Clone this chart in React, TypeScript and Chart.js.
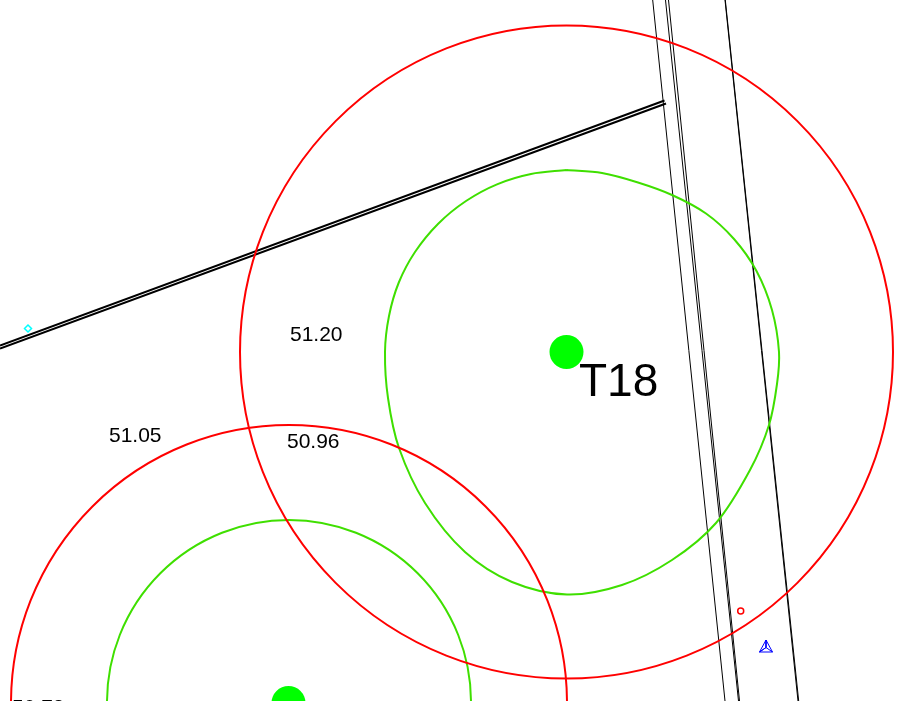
import React, { useEffect, useRef } from "react";
import { Chart, registerables } from "chart.js";

Chart.register(...registerables);

type P = { x: number; y: number };

const redRings = [
  { x: 566.5, y: 352, r: 326.5 },
  { x: 289, y: 703, r: 278 },
];
const greenRings = [{ x: 289, y: 702, r: 182 }];
const greenDots = [
  { x: 566.5, y: 352, r: 17 },
  { x: 288.5, y: 703, r: 17 },
];
const redMarkers = [{ x: 740.7, y: 611, r: 3 }];
const cyanMarkers = [{ x: 28, y: 328.5, r: 3.5 }];

const contourT18: P[] = [
  { x: 566.5, y: 170 }, { x: 602, y: 173 }, { x: 638, y: 182.5 }, { x: 672, y: 195 }, { x: 706, y: 213.5 },
  { x: 734, y: 239 }, { x: 756.5, y: 271 }, { x: 772, y: 310 }, { x: 779, y: 352 }, { x: 777, y: 384 },
  { x: 769, y: 425 }, { x: 750, y: 470 }, { x: 716, y: 523 }, { x: 672, y: 560 }, { x: 622, y: 585 },
  { x: 567, y: 594.5 }, { x: 512, y: 582 }, { x: 465, y: 552 }, { x: 425, y: 503 }, { x: 399, y: 448 },
  { x: 388, y: 398 }, { x: 385, y: 352 }, { x: 389, y: 316 }, { x: 398.8, y: 282.5 }, { x: 415, y: 252 },
  { x: 438.2, y: 223.7 }, { x: 466, y: 201 }, { x: 497, y: 184.3 }, { x: 531, y: 174 }, { x: 566.5, y: 170 },
];

const roadUpper: P[] = [{ x: 0, y: 345.5 }, { x: 664.5, y: 100.5 }];
const roadLower: P[] = [{ x: 0, y: 348.5 }, { x: 666, y: 103.5 }];
const edgeA: P[] = [{ x: 652.7, y: 0 }, { x: 725, y: 701 }];
const edgeB1: P[] = [{ x: 665.5, y: 0 }, { x: 738.5, y: 701 }];
const edgeB2: P[] = [{ x: 668.5, y: 0 }, { x: 739.5, y: 701 }];
const edgeC1: P[] = [{ x: 725, y: 0 }, { x: 798, y: 701 }];
const edgeC2: P[] = [{ x: 725.3, y: 0 }, { x: 798.7, y: 701 }];
const triangleMark: P[] = [
  { x: 766, y: 640 }, { x: 759.5, y: 652 }, { x: 772.5, y: 652 }, { x: 766, y: 640 },
  { x: 766, y: 647.5 }, { x: 759.5, y: 652 }, { x: 766, y: 647.5 }, { x: 772.5, y: 652 },
];

const labelTexts = ["51.20", "51.05", "50.96", "50.78"];
const labelXs = [290, 109, 287, 12];
const labelYs = [341, 442, 448, 714];
const turbineName = "T18";
const turbineAt: P = { x: 579, y: 396 };

const textPlugin = {
  id: "drawingText",
  afterDatasetsDraw(chart: any) {
    const { ctx, scales } = chart;
    ctx.save();
    ctx.fillStyle = "#000";
    ctx.textAlign = "left";
    ctx.textBaseline = "alphabetic";
    ctx.font = '21px "Liberation Sans"';
    labelTexts.forEach((t, i) => {
      ctx.fillText(t, scales.x.getPixelForValue(labelXs[i]), scales.y.getPixelForValue(labelYs[i]));
    });
    ctx.font = '46px "Liberation Sans"';
    ctx.fillText(turbineName, scales.x.getPixelForValue(turbineAt.x), scales.y.getPixelForValue(turbineAt.y));
    ctx.restore();
  },
};

const ring = (data: any[], color: string, width: number) => ({
  type: "bubble" as const,
  data,
  borderColor: color,
  backgroundColor: "transparent",
  borderWidth: width,
  hoverBorderWidth: width,
});
const path = (data: P[], color: string, width: number, tension = 0) => ({
  type: "line" as const,
  data,
  borderColor: color,
  backgroundColor: "transparent",
  borderWidth: width,
  pointRadius: 0,
  tension,
  fill: false,
});

export default function App() {
  const ref = useRef<HTMLCanvasElement>(null);
  useEffect(() => {
    document.body.style.margin = "0";
    const chart = new Chart(ref.current!, {
      type: "bubble",
      data: {
        datasets: [
          ring(redRings, "#ff0000", 2),
          ring(redMarkers, "#ff0000", 1.5),
          { ...ring(cyanMarkers, "#00ffff", 1.5), pointStyle: "rectRot" },
          path(triangleMark, "#0000ff", 1),
          path(contourT18, "#3fdf00", 2, 0.33),
          ring(greenRings, "#3fdf00", 2),
          { ...ring(greenDots, "#00ff00", 0), backgroundColor: "#00ff00" },
          path(roadUpper, "#000000", 2),
          path(roadLower, "#000000", 2),
          path(edgeA, "#000000", 1),
          path(edgeB1, "#000000", 1),
          path(edgeB2, "#000000", 1),
          path(edgeC1, "#000000", 1),
          path(edgeC2, "#000000", 1),
        ] as any,
      },
      options: {
        animation: false,
        responsive: false,
        devicePixelRatio: 1,
        layout: { padding: 0, autoPadding: false },
        events: [],
        scales: {
          x: { type: "linear", display: false, min: 0, max: 900 },
          y: { type: "linear", display: false, min: 0, max: 701, reverse: true },
        },
        plugins: { legend: { display: false }, tooltip: { enabled: false } },
      },
      plugins: [textPlugin],
    });
    return () => chart.destroy();
  }, []);
  return (
    <canvas
      ref={ref}
      width={900}
      height={701}
      style={{ display: "block", width: 900, height: 701, background: "#fff" }}
    />
  );
}
